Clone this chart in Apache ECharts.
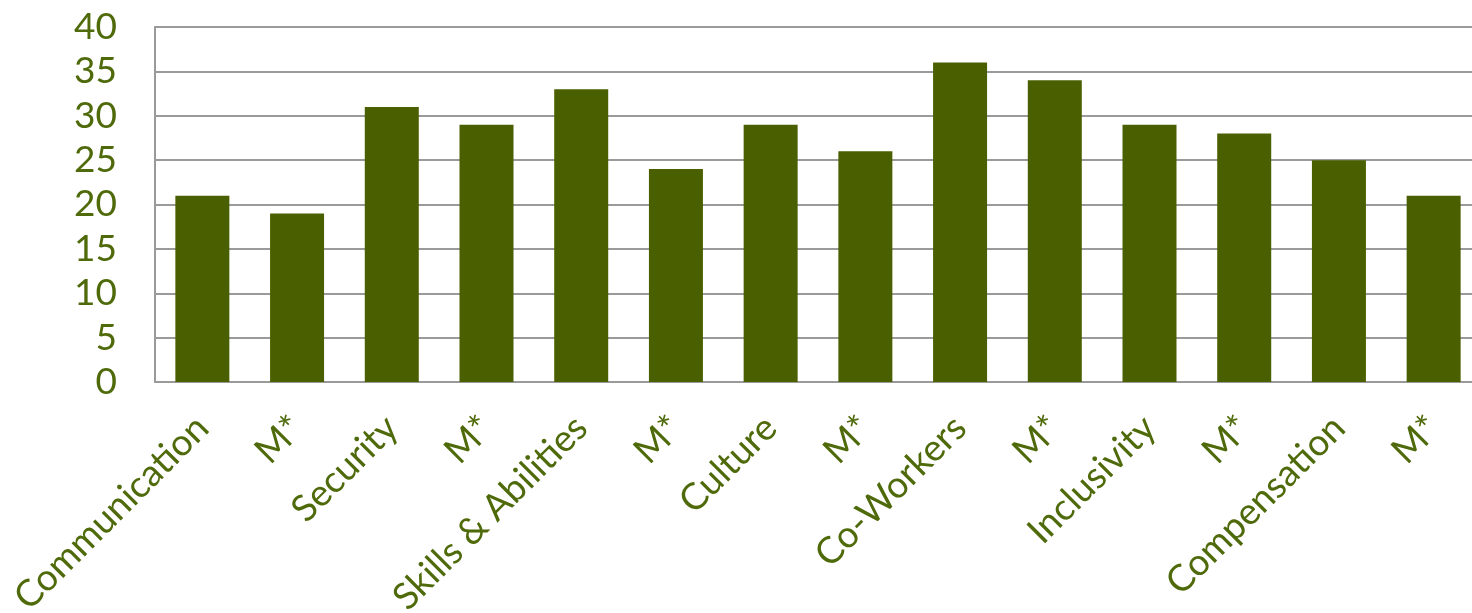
<!DOCTYPE html>
<html>
<head>
<meta charset="utf-8">
<script src="https://cdn.jsdelivr.net/npm/echarts@6/dist/echarts.min.js"></script>
<style>
  html, body { margin: 0; padding: 0; background: #fff; }
  #chart { width: 1472px; height: 613px; }
</style>
</head>
<body>
<div id="chart"></div>
<script>
// categories along the bottom
var categories = ['Communication', 'M*', 'Security', 'M*', 'Skills & Abilities', 'M*',
    'Culture', 'M*', 'Co-Workers', 'M*', 'Inclusivity', 'M*', 'Compensation', 'M*'];
// bar heights
var values = [21, 19, 31, 29, 33, 24, 29, 26, 36, 34, 29, 28, 25, 21];
// y axis range
var yMin = 0, yMax = 40, yStep = 5;

var textColor = '#4f6a0a';
var gridColor = '#9a9a9a';

var option = {
    animation: false,
    grid: {
        left: 155,
        top: 27,
        bottom: 231,
        right: -9,
        outerBoundsMode: 'none',
        containLabel: false
    },
    xAxis: {
        type: 'category',
        data: categories,
        axisLine: { show: true, lineStyle: { color: gridColor, width: 2 } },
        axisTick: { show: false },
        axisLabel: {
            interval: 0,
            rotate: 45,
            margin: 40,
            color: textColor,
            fontFamily: 'Lato',
            fontSize: 37
        }
    },
    yAxis: {
        type: 'value',
        min: yMin,
        max: yMax,
        interval: yStep,
        axisLine: { show: true, lineStyle: { color: gridColor, width: 2 } },
        axisTick: { show: false },
        splitLine: { lineStyle: { color: gridColor, width: 2 } },
        axisLabel: {
            margin: 38,
            color: textColor,
            fontFamily: 'Lato',
            fontSize: 37
        }
    },
    series: [{
        type: 'bar',
        data: values,
        barWidth: 54,
        itemStyle: { color: '#4a6000' }
    }]
};

var myChart = echarts.init(document.getElementById('chart'));
myChart.setOption(option);
</script>
</body>
</html>
